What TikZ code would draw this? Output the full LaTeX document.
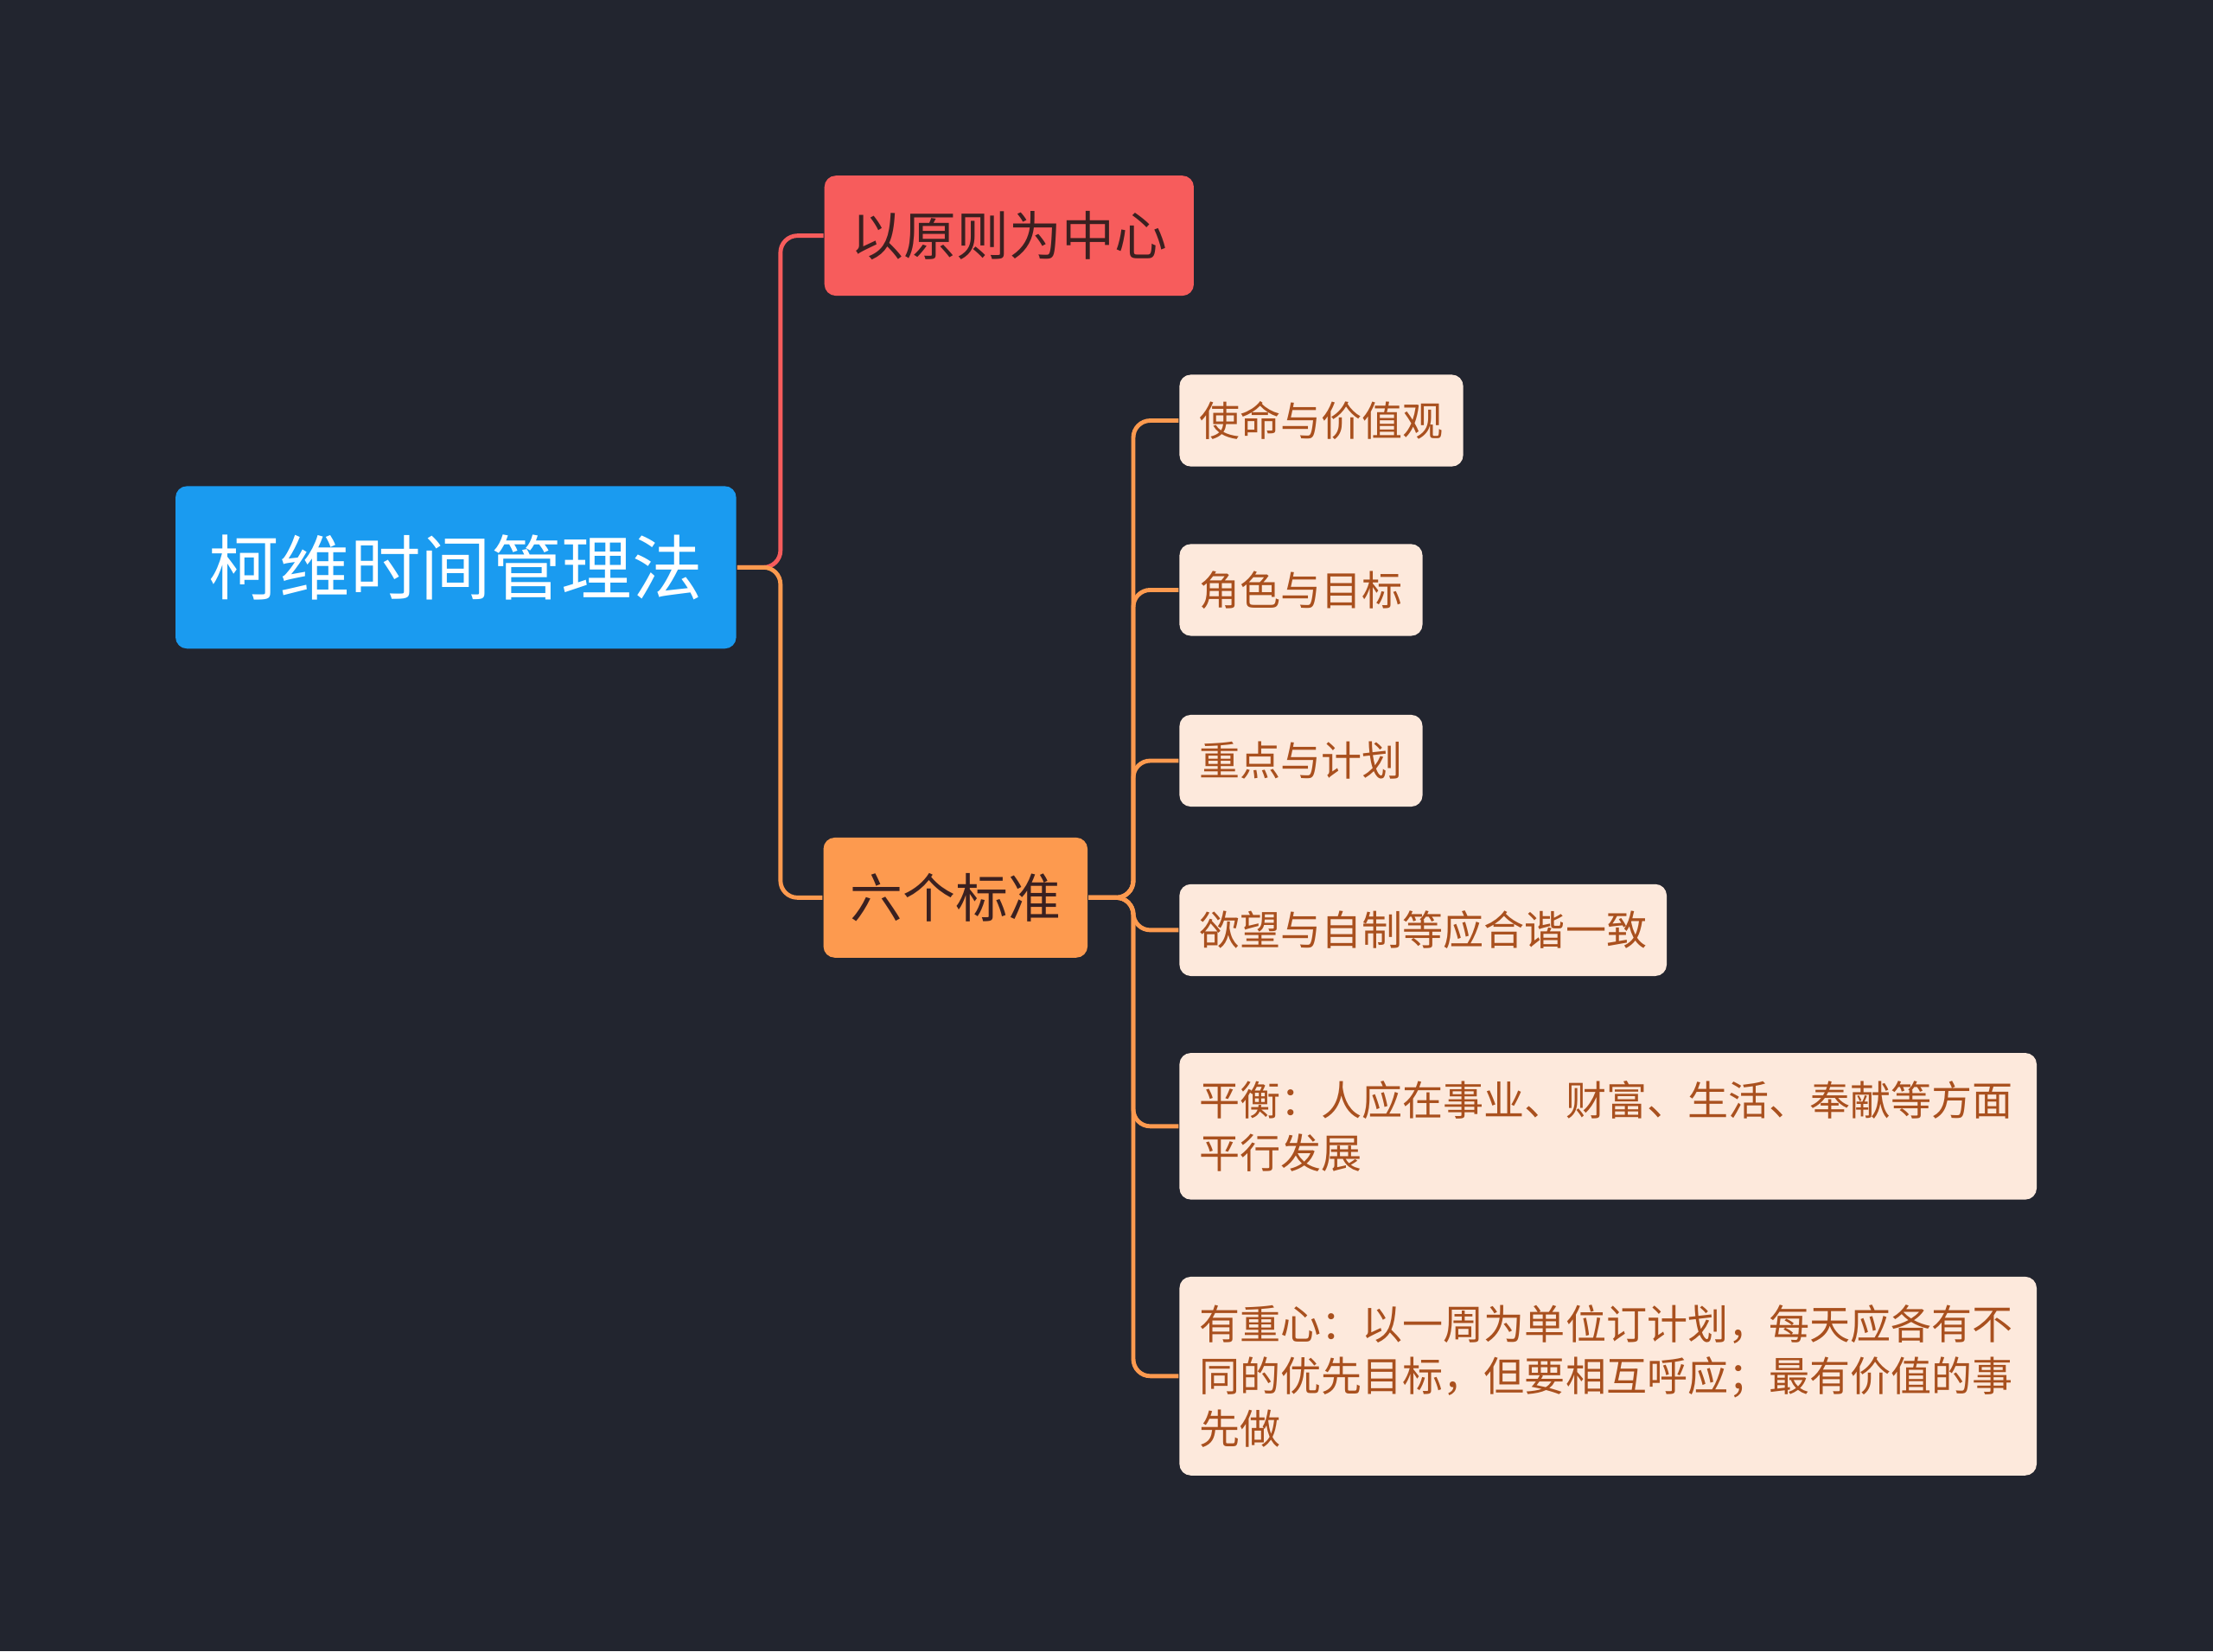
\documentclass[tikz,border=0pt]{standalone}
\usepackage{fontspec}
\setmainfont{Noto Sans CJK SC}
\definecolor{bg}{HTML}{22252F}
\definecolor{rootblue}{HTML}{1A9BF0}
\definecolor{topred}{HTML}{F75C5C}
\definecolor{toporange}{HTML}{FD9A4F}
\definecolor{leaffill}{HTML}{FDE9DC}
\definecolor{leaftext}{HTML}{A9501E}
\definecolor{topictext}{HTML}{3A2020}
\begin{document}
\begin{tikzpicture}[x=0.01cm,y=-0.01cm]
\tikzset{
  rootbox/.style={fill=rootblue,rounded corners=0.08cm,text=white,minimum width=3.97cm,minimum height=1.15cm,font=\fontsize{14.2}{16}\selectfont},
  topicbox/.style={rounded corners=0.08cm,text=topictext,minimum height=0.85cm,inner xsep=0.19cm,font=\fontsize{10.6}{12}\selectfont},
  leafbox/.style={fill=leaffill,rounded corners=0.08cm,text=leaftext,anchor=west,minimum height=0.65cm,inner xsep=0.14cm,inner ysep=0.12cm,align=left,font=\fontsize{8.2}{10.5}\selectfont},
  longleaf/.style={leafbox,text width=5.79cm,inner ysep=0.2cm},
  redlink/.style={draw=topred,line width=0.85pt,rounded corners=0.12cm},
  orangelink/.style={draw=toporange,line width=0.85pt,rounded corners=0.12cm}
}
\fill[bg] (0,0) rectangle (1568,1170);
\node (root) at (323,402) [rootbox] {柯维时间管理法};
\node (center) at (715,167) [topicbox,fill=topred,minimum width=2.6cm] {以原则为中心};
\node (six) at (677,636) [topicbox,fill=toporange,minimum width=1.85cm] {六个标准};
\node (mission) at (835,298) [leafbox] {使命与价值观};
\node (role) at (835,418) [leafbox] {角色与目标};
\node (plan) at (835,539) [leafbox] {重点与计划};
\node (desire) at (835,659) [leafbox] {欲望与自制等应合谐一致};
\node (balance) at (835,798) [longleaf] {平衡：人应在事业、财富、生活、奉献等方面\\平行发展};
\node (focus) at (835,975) [longleaf] {有重心：以一周为单位订计划，每天应各有不\\同的优先目标，但要相互呼应；最有价值的事\\先做};
\draw [redlink] (root.east) -- (553,402) |- (center.west);
\draw [orangelink] (root.east) -- (553,402) |- (six.west);
\draw [orangelink] (six.east) -- (803,636) |- (mission.west);
\draw [orangelink] (six.east) -- (803,636) |- (role.west);
\draw [orangelink] (six.east) -- (803,636) |- (plan.west);
\draw [orangelink] (six.east) -- (803,636) |- (desire.west);
\draw [orangelink] (six.east) -- (803,636) |- (balance.west);
\draw [orangelink] (six.east) -- (803,636) |- (focus.west);
\end{tikzpicture}
\end{document}
